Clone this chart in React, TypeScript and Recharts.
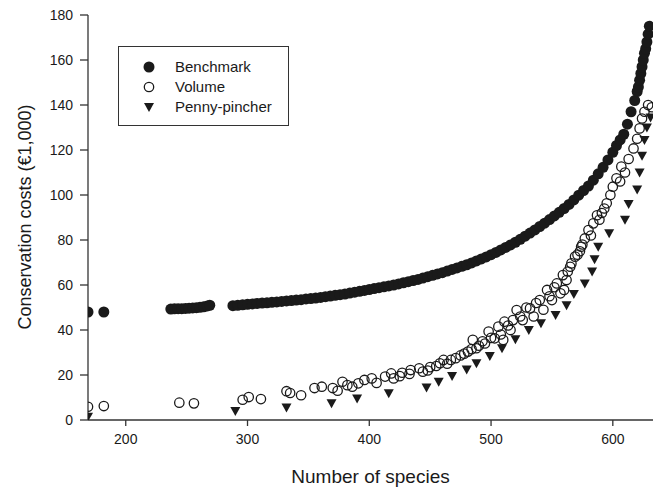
import { ScatterChart, Scatter, XAxis, YAxis, Legend } from "recharts";

const FONT = "'Liberation Sans', Arial, Helvetica, sans-serif";
const INK = "#1a1a1a";

const X_TICKS = [200, 300, 400, 500, 600];
const Y_TICKS = [0, 20, 40, 60, 80, 100, 120, 140, 160, 180];

// Benchmark (filled circles)
const BENCHMARK_SPECIES = [
    169, 182, 237, 240, 243, 246, 249, 252, 255, 258, 261, 264, 267, 269,
    288, 292, 296, 300, 304, 308, 312, 316, 320, 324, 328, 332, 336, 340,
    344, 348, 352, 356, 360, 364, 368, 372, 376, 380, 384, 388, 392, 396,
    400, 404, 408, 412, 416, 420, 424, 428, 432, 436, 440, 444, 448, 452,
    456, 460, 464, 468, 472, 476, 480, 484, 488, 492, 496, 500, 504, 508,
    512, 516, 520, 524, 528, 532, 536, 540, 544, 548, 552, 556, 560, 564,
    568, 572, 576, 580, 584, 588, 592, 596, 600, 603, 606, 609, 612, 615,
    618, 620, 621, 622, 623, 624, 625, 626, 627, 628, 629, 630,
];
const BENCHMARK_COSTS = [
    48, 48, 49.3, 49.4, 49.5, 49.5, 49.6, 49.7, 49.8, 49.9, 50.1, 50.3, 50.7, 51,
    50.8, 51, 51.2, 51.4, 51.6, 51.8, 52, 52.1, 52.3, 52.5, 52.7, 52.9, 53.1, 53.3,
    53.5, 53.8, 54, 54.2, 54.5, 54.8, 55.1, 55.4, 55.7, 56, 56.4, 56.8, 57.2, 57.6,
    58, 58.4, 58.8, 59.2, 59.6, 60, 60.5, 61, 61.5, 62, 62.5, 63.1, 63.7, 64.3,
    64.9, 65.5, 66.2, 66.9, 67.6, 68.3, 69, 69.8, 70.7, 71.6, 72.5, 73.5, 74.5, 75.6,
    76.7, 77.8, 79, 80.3, 81.7, 83.1, 84.5, 86, 87.5, 89.1, 90.7, 92.3, 94, 95.8,
    97.8, 99.9, 102, 104, 106.6, 109.4, 112.3, 115.6, 119, 122, 124.5, 127, 131.5, 137,
    142, 146, 148, 151, 154, 157, 160, 163, 165, 168, 171.5, 175,
];

// Volume (open circles)
const VOLUME_SPECIES = [
    169, 182, 244, 256, 296, 301, 311, 332, 335, 344, 355, 361, 370, 374,
    378, 382, 386, 391, 396, 402, 406, 413, 418, 420, 425, 427, 433, 434,
    441, 444, 448, 450, 455, 458, 461, 464, 467, 471, 475, 478, 481, 484,
    485, 488, 490, 493, 495, 498, 500, 503, 506, 508, 510, 511, 514, 516,
    518, 521, 524, 526, 529, 532, 535, 537, 540, 543, 546, 548, 550, 552,
    554, 557, 559, 560, 562, 563, 565, 566, 569, 571, 573, 574, 575, 577,
    580, 582, 584, 587, 589, 591, 593, 595, 598, 600, 603, 606, 607, 610,
    613, 617, 620, 622, 624, 626, 629, 632,
];
const VOLUME_COSTS = [
    5.9, 6.2, 7.7, 7.4, 9, 10.2, 9.3, 12.8, 12, 11, 14.2, 14.8, 14.2, 13,
    17, 15.5, 14.8, 16.3, 17.8, 18.5, 16.5, 19.3, 20.7, 18.5, 19.5, 21, 20.5, 22.2,
    23, 21.5, 22, 23.5, 24, 25.2, 26.7, 25, 26.7, 27.5, 28.7, 29.5, 30.4, 31.5,
    35.6, 31.9, 33, 35, 34, 39.3, 36.5, 36.3, 41.5, 38, 35.6, 43.7, 42, 40,
    44.4, 48.9, 46, 44.4, 50, 49.6, 46, 52, 53.3, 49, 57.8, 55, 53.3, 59,
    60.7, 56.3, 64.4, 57.8, 62.2, 66, 68.1, 69.6, 72.6, 73.5, 75, 77, 78, 80.7,
    84.4, 82, 87.4, 91, 89, 92, 94, 96.3, 100, 103.7, 107.4, 106, 112.6, 110,
    116, 120.7, 125, 129.6, 134, 137, 140, 139,
];

// Penny-pincher (filled triangles)
const PENNY_SPECIES = [
    169, 290, 332, 369, 390, 416, 447, 457, 468, 480, 488, 499, 509, 520,
    531, 541, 553, 562, 568, 577, 583, 585, 588, 597, 610, 613, 620, 622,
    624, 626, 628, 631,
];
const PENNY_COSTS = [
    1.5, 4, 5.6, 7.5, 9.6, 11.9, 14.5, 17, 19.6, 22.5, 25.2, 28.4, 31.9, 35.9,
    40, 43, 46.7, 51, 56, 60.7, 66, 71.5, 77, 83, 89, 96, 102.5, 110,
    117.5, 124.4, 130, 134.5,
];

const toPoints = (xs: number[], ys: number[]) => xs.map((x, i) => ({ x, y: ys[i] }));

const benchmark = toPoints(BENCHMARK_SPECIES, BENCHMARK_COSTS);
const volume = toPoints(VOLUME_SPECIES, VOLUME_COSTS);
const penny = toPoints(PENNY_SPECIES, PENNY_COSTS);

const FilledDot = ({ cx, cy }: any) => <circle cx={cx} cy={cy} r={5.5} fill={INK} />;
const OpenDot = ({ cx, cy }: any) => (
    <circle cx={cx} cy={cy} r={4.7} fill="none" stroke={INK} strokeWidth={1.3} />
);
const DownTriangle = ({ cx, cy }: any) => (
    <polygon points={`${cx - 5},${cy - 4} ${cx + 5},${cy - 4} ${cx},${cy + 5}`} fill={INK} />
);

const LEGEND_ITEMS = [
    { label: "Benchmark", Shape: FilledDot },
    { label: "Volume", Shape: OpenDot },
    { label: "Penny-pincher", Shape: DownTriangle },
];

const LegendBox = () => (
    <div
        style={{
            width: 171,
            height: 80,
            boxSizing: "border-box",
            border: "1.3px solid #333",
            background: "#fff",
            position: "relative",
        }}
    >
        <svg width={171} height={80} style={{ position: "absolute", left: -1, top: -1 }}>
            {LEGEND_ITEMS.map((item, i) => (
                <g key={item.label}>
                    <item.Shape cx={31} cy={21 + i * 20} />
                    <text
                        x={57}
                        y={21 + i * 20}
                        dy="0.35em"
                        fontSize={15}
                        fontFamily={FONT}
                        fill={INK}
                    >
                        {item.label}
                    </text>
                </g>
            ))}
        </svg>
    </div>
);

const tickStyle = { fontSize: 14, fill: INK, fontFamily: FONT };

const YTitle = () => (
    <text
        x={25}
        y={217}
        transform="rotate(-90, 25, 217)"
        textAnchor="middle"
        dominantBaseline="central"
        fontSize={18}
        fontFamily={FONT}
        fill={INK}
    >
        Conservation costs (€1,000)
    </text>
);

export default function App() {
    return (
        <div style={{ width: 660, height: 487, background: "#fff" }}>
            <style>{`body { margin: 0; }`}</style>
            <ScatterChart
                width={660}
                height={487}
                margin={{ top: 15, right: 7, bottom: 0, left: 28 }}
            >
                <XAxis
                    type="number"
                    dataKey="x"
                    domain={[169, 633]}
                    ticks={X_TICKS}
                    allowDataOverflow
                    height={67}
                    tickSize={6}
                    tickMargin={8}
                    tick={tickStyle}
                    stroke="#333"
                    strokeWidth={1.3}
                    label={{
                        value: "Number of species",
                        position: "insideBottom",
                        offset: 4,
                        style: { fontSize: 19, fill: INK, fontFamily: FONT },
                    }}
                />
                <YAxis
                    type="number"
                    dataKey="y"
                    domain={[0, 180]}
                    ticks={Y_TICKS}
                    allowDataOverflow
                    width={60}
                    tickSize={8}
                    tickMargin={7}
                    tick={tickStyle}
                    stroke="#333"
                    strokeWidth={1.3}
                    label={{ content: () => <YTitle /> }}
                />
                <Legend
                    layout="vertical"
                    align="center"
                    verticalAlign="middle"
                    wrapperStyle={{ left: 118, top: 46, width: 171, height: 80 }}
                    content={() => <LegendBox />}
                />
                <Scatter name="Benchmark" data={benchmark} shape={FilledDot} isAnimationActive={false} />
                <Scatter name="Volume" data={volume} shape={OpenDot} isAnimationActive={false} />
                <Scatter name="Penny-pincher" data={penny} shape={DownTriangle} isAnimationActive={false} />
            </ScatterChart>
        </div>
    );
}
